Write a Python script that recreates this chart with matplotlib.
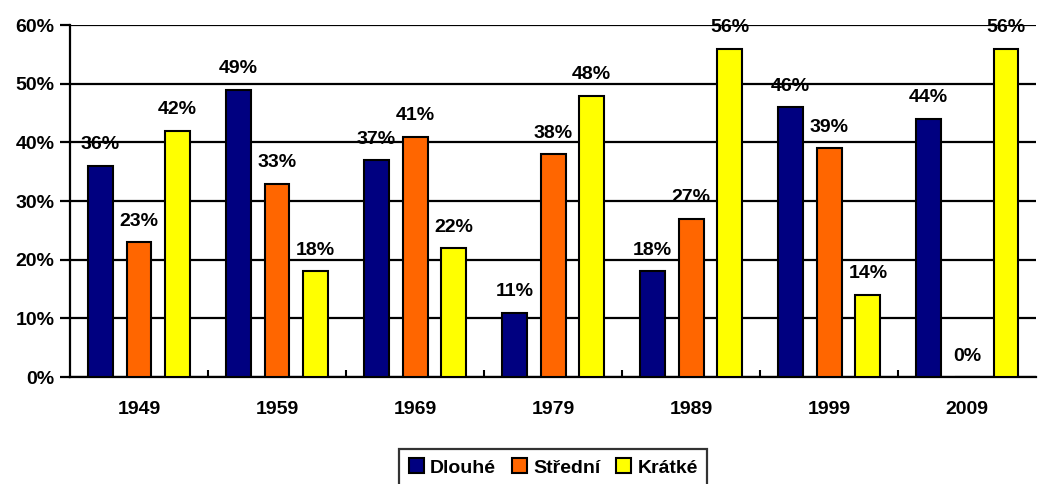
import numpy as np
import matplotlib.pyplot as plt
from matplotlib.ticker import FixedLocator

years = ['1949', '1959', '1969', '1979', '1989', '1999', '2009']
dlouhe = [36, 49, 37, 11, 18, 46, 44]
stredni = [23, 33, 41, 38, 27, 39, 0]
kratke = [42, 18, 22, 48, 56, 14, 56]

series = [('Dlouhé', dlouhe, '#000080'),
          ('Střední', stredni, '#FF6600'),
          ('Krátké', kratke, '#FFFF00')]

plt.rcParams['font.family'] = ['Liberation Sans', 'DejaVu Sans']
plt.rcParams['font.weight'] = 'bold'

fig = plt.figure(figsize=(10.38, 4.84), dpi=100)
ax = fig.add_axes([0.0674, 0.221, 0.931, 0.727])

x = np.arange(len(years))
w = 0.18
offs = [-0.28, 0, 0.28]
for (name, vals, col), o in zip(series, offs):
    ax.bar(x + o, vals, width=w, color=col, edgecolor='black',
           linewidth=1.5, label=name, zorder=3)
    for xi, v in zip(x + o, vals):
        ax.annotate(f'{v}%', (xi, v), xytext=(0, 9), textcoords='offset points',
                    ha='center', va='bottom', fontsize=14, fontweight='bold', zorder=4)

ax.set_xlim(-0.5, len(years) - 0.5)
ax.set_ylim(0, 60)
ax.set_yticks(range(0, 61, 10))
ax.set_yticklabels([f'{v}%' for v in range(0, 61, 10)])
ax.yaxis.grid(True, color='black', linewidth=1.6, zorder=0)
ax.set_xticks(x)
ax.set_xticklabels(years)
ax.xaxis.set_minor_locator(FixedLocator(np.arange(0.5, len(years) - 1, 1)))
ax.tick_params(axis='x', which='major', length=0, pad=17, labelsize=14)
ax.tick_params(axis='x', which='minor', direction='in', length=5, width=1.5)
ax.tick_params(axis='y', length=7, width=1.6, labelsize=14, pad=4)
for s in ['top', 'right']:
    ax.spines[s].set_visible(False)
for s in ['left', 'bottom']:
    ax.spines[s].set_linewidth(1.6)

leg = fig.legend(loc='lower center', bbox_to_anchor=(0.533, -0.025), ncol=3,
                 fontsize=14, frameon=True, fancybox=False, edgecolor='black',
                 handlelength=0.8, handleheight=0.8, handletextpad=0.3,
                 columnspacing=0.8, borderpad=0.5)
leg.get_frame().set_linewidth(1.6)

fig.savefig('out.png', dpi=100)
